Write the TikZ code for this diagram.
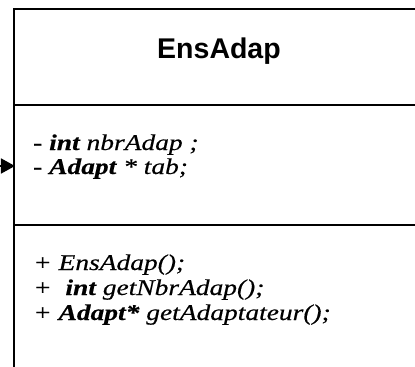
\documentclass[tikz,border=0pt]{standalone}
\usepackage{fontspec}
\setmainfont{Liberation Serif}
\newfontfamily\titlefont{Liberation Sans}
\newfontfamily\memberfont[FakeStretch=1.22, FakeBold=0.4]{Liberation Serif}
\usetikzlibrary{arrows.meta}

\tikzset{
  classline/.style={line width=2.6bp, black},
  titletext/.style={inner sep=0, anchor=base, font=\titlefont\bfseries\fontsize{28.5bp}{30bp}\selectfont},
  membertext/.style={inner sep=0, anchor=base west, font=\memberfont\itshape\fontsize{22.5bp}{25bp}\selectfont},
  assoc/.style={line width=1.5bp, -{Triangle[length=14bp,width=15bp]}}
}

\begin{document}
\begin{tikzpicture}[x=1bp, y=1bp]
  \useasboundingbox (0,0) rectangle (415,367);
  \clip (0,0) rectangle (415,367);

  % class box, open to the right and below
  \draw[classline] (425,358) -- (14,358) -- (14,-10);
  \draw[classline] (14,262) -- (425,262);
  \draw[classline] (14,142) -- (425,142);

  % class name
  \node[titletext] (name) at (219,309) {EnsAdap};

  % attributes
  \node[membertext] (a1) at (33,217) {- \textbf{int} nbrAdap ;};
  \node[membertext] (a2) at (33,193) {- \textbf{Adapt} * tab;};

  % operations
  \node[membertext] (m1) at (33,97)  {+ EnsAdap();};
  \node[membertext] (m2) at (33,72)  {+ \ \textbf{int} getNbrAdap();};
  \node[membertext] (m3) at (33,47)  {+ \textbf{Adapt*} getAdaptateur();};

  % incoming association
  \coordinate (src) at (-6,201);
  \coordinate (entry) at (15,201);
  \draw[assoc] (src) -- (entry);
\end{tikzpicture}
\end{document}
